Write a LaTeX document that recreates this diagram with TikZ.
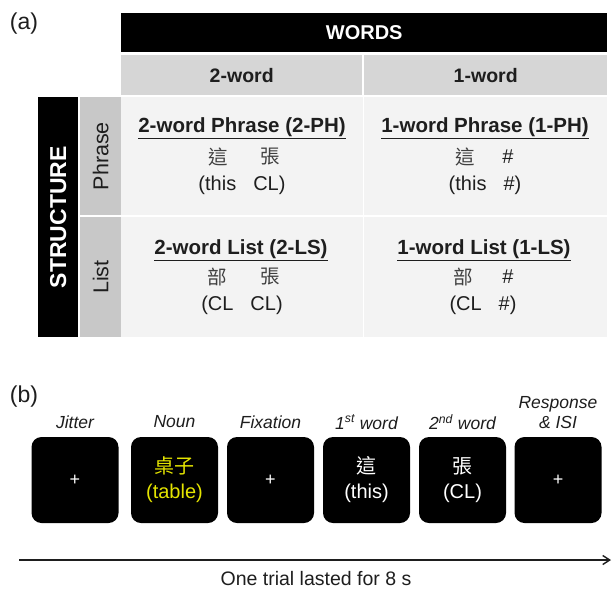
\documentclass[tikz,border=0pt]{standalone}
\usepackage{fontspec}
\setmainfont{Liberation Sans}
\newfontfamily\cjk{Noto Sans CJK TC}
\usetikzlibrary{arrows.meta}
\definecolor{hdrgray}{RGB}{214,214,214}
\definecolor{colgray}{RGB}{200,200,200}
\definecolor{cellgray}{RGB}{243,243,243}
\definecolor{txt}{RGB}{30,30,30}
\definecolor{nounyellow}{RGB}{228,228,0}
\begin{document}
\begin{tikzpicture}[x=1pt,y=-1pt,
  blk/.style={fill=black,text=white,inner sep=0pt,anchor=north west},
  hdr/.style={fill=hdrgray,text=txt,inner sep=0pt,anchor=north west,font=\bfseries\fontsize{19.5}{22}\selectfont},
  colh/.style={fill=colgray,text=txt,inner sep=0pt,anchor=north west},
  cell/.style={fill=cellgray,inner sep=0pt,anchor=north west},
  ttl/.style={text=txt,font=\bfseries\fontsize{20.5}{23}\selectfont,inner sep=0pt},
  ch/.style={text=txt!85,font=\cjk\fontsize{19.5}{22}\selectfont,inner sep=0pt},
  par/.style={text=txt,font=\fontsize{20}{23}\selectfont,inner sep=0pt},
  scr/.style={fill=black,rounded corners=10pt,minimum width=87pt,minimum height=86pt,inner sep=0pt},
  lab/.style={text=txt,font=\itshape\fontsize{17.5}{19}\selectfont,inner sep=0pt,align=center},
  intext/.style={text=white,font=\fontsize{20}{25}\selectfont,align=center,inner sep=0pt},
  plus/.style={text=white,font=\fontsize{18}{20}\selectfont,inner sep=0pt}
]
\useasboundingbox[fill=white] (0,0) rectangle (612,590);

% panel labels
\node[font=\fontsize{23}{26}\selectfont,text=txt,inner sep=0pt] (pa) at (24,24) {(a)};
\node[font=\fontsize{23}{26}\selectfont,text=txt,inner sep=0pt] (pb) at (24,397) {(b)};

% table headers
\node[blk,minimum width=486pt,minimum height=39pt,font=\bfseries\fontsize{20}{22}\selectfont] (words) at (121,13) {WORDS};
\node[hdr,minimum width=241pt,minimum height=40pt] (h2) at (121,55) {2-word};
\node[hdr,minimum width=243pt,minimum height=40pt] (h1) at (364,55) {1-word};

\node[blk,minimum width=40pt,minimum height=240pt] (struct) at (38,97) {};
\node[text=white,font=\bfseries\fontsize{23}{26}\selectfont,rotate=90,inner sep=0pt] (structt) at (struct.center) {STRUCTURE};
\node[colh,minimum width=41pt,minimum height=118pt] (cph) at (80,97) {};
\node[text=txt,font=\fontsize{21.5}{24}\selectfont,rotate=90,inner sep=0pt] (cpht) at (cph.center) {Phrase};
\node[colh,minimum width=41pt,minimum height=120pt] (cls) at (80,217) {};
\node[text=txt,font=\fontsize{21.5}{24}\selectfont,rotate=90,inner sep=0pt] (clst) at (cls.center) {List};

% cells
\node[cell,minimum width=242pt,minimum height=118pt] (c11) at (121,97) {};
\node[cell,minimum width=243pt,minimum height=118pt] (c12) at (364,97) {};
\node[cell,minimum width=242pt,minimum height=120pt] (c21) at (121,217) {};
\node[cell,minimum width=243pt,minimum height=120pt] (c22) at (364,217) {};

% cell texts: 2-PH
\node[ttl] (t11) at (242,128) {\underline{2-word Phrase (2-PH)}};
\node[ch] (k11a) at (218,157) {這};
\node[ch] (k11b) at (270,157) {張};
\node[par] (p11) at (242,185) {(this\hspace{17pt}CL)};
% 1-PH
\node[ttl] (t12) at (485,128) {\underline{1-word Phrase (1-PH)}};
\node[ch] (k12a) at (465,157) {這};
\node[par] (k12b) at (508,157) {\#};
\node[par] (p12) at (485,185) {(this\hspace{17pt}\#)};
% 2-LS
\node[ttl] (t21) at (241,250) {\underline{2-word List (2-LS)}};
\node[ch] (k21a) at (217,277) {部};
\node[ch] (k21b) at (270,277) {張};
\node[par] (p21) at (242,305) {(CL\hspace{17pt}CL)};
% 1-LS
\node[ttl] (t22) at (484,250) {\underline{1-word List (1-LS)}};
\node[ch] (k22a) at (463,277) {部};
\node[par] (k22b) at (508,277) {\#};
\node[par] (p22) at (483,305) {(CL\hspace{17pt}\#)};

% (b) screens
\node[scr] (s1) at (75,480) {};
\node[scr] (s2) at (174.5,480) {};
\node[scr] (s3) at (270.5,480) {};
\node[scr] (s4) at (366.5,480) {};
\node[scr] (s5) at (462.5,480) {};
\node[scr] (s6) at (558,480) {};

\node[plus] (x1) at (s1.center) {+};
\node[intext,text=nounyellow] (x2) at (s2.center) {{\cjk 桌子}\\(table)};
\node[plus] (x3) at (s3.center) {+};
\node[intext] (x4) at (s4.center) {{\cjk 這}\\(this)};
\node[intext] (x5) at (s5.center) {{\cjk 張}\\(CL)};
\node[plus] (x6) at (s6.center) {+};

\node[lab] (l1) at (75,422) {Jitter};
\node[lab] (l2) at (174.5,422) {Noun};
\node[lab] (l3) at (270.5,422) {Fixation};
\node[lab] (l4) at (366.5,422) {1\textsuperscript{st} word};
\node[lab] (l5) at (462.5,422) {2\textsuperscript{nd} word};
\node[lab,anchor=south] (l6) at (558,429) {Response\\[1pt]\& ISI};

% timeline
\coordinate (tl) at (19,560);
\coordinate (tr) at (611,560);
\draw[line width=1.4pt,txt,-{Straight Barb[length=7pt,width=9pt]}] (tl) -- (tr);
\node[text=txt,font=\fontsize{19.5}{22}\selectfont,inner sep=0pt] (tt) at (316,579) {One trial lasted for 8 s};
\end{tikzpicture}
\end{document}
